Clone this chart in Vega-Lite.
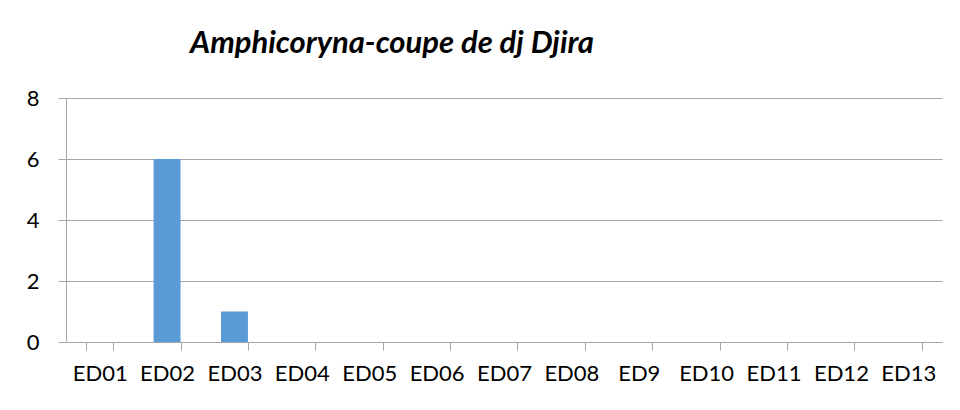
{
  "$schema": "https://vega.github.io/schema/vega-lite/v6.json",
  "autosize": {"type": "none"},
  "width": 876,
  "height": 244,
  "padding": {"left": 66, "top": 98, "right": 18, "bottom": 68},
  "background": "white",
  "title": {
    "text": "Amphicoryna-coupe de dj Djira",
    "font": "Lato",
    "fontSize": 31,
    "fontWeight": "bold",
    "fontStyle": "italic",
    "color": "black",
    "anchor": "middle",
    "dx": -112,
    "offset": 27
  },
  "data": {
    "values": [
      {"echantillon": "ED01", "nombre": 0},
      {"echantillon": "ED02", "nombre": 6},
      {"echantillon": "ED03", "nombre": 1},
      {"echantillon": "ED04", "nombre": 0},
      {"echantillon": "ED05", "nombre": 0},
      {"echantillon": "ED06", "nombre": 0},
      {"echantillon": "ED07", "nombre": 0},
      {"echantillon": "ED08", "nombre": 0},
      {"echantillon": "ED9", "nombre": 0},
      {"echantillon": "ED10", "nombre": 0},
      {"echantillon": "ED11", "nombre": 0},
      {"echantillon": "ED12", "nombre": 0},
      {"echantillon": "ED13", "nombre": 0}
    ]
  },
  "mark": {"type": "bar", "color": "#5B9BD5"},
  "encoding": {
    "x": {
      "field": "echantillon",
      "type": "nominal",
      "sort": null,
      "title": null,
      "scale": {"paddingInner": 0.6, "paddingOuter": 0.3},
      "axis": {
        "labelAngle": 0,
        "tickBand": "extent",
        "tickSize": 8,
        "tickColor": "#a6a6a6",
        "domainColor": "#a6a6a6",
        "labelFont": "Lato",
        "labelFontSize": 22,
        "labelColor": "black",
        "labelPadding": 13,
        "grid": false
      }
    },
    "y": {
      "field": "nombre",
      "type": "quantitative",
      "title": null,
      "scale": {"domain": [0, 8], "nice": false},
      "axis": {
        "values": [0, 2, 4, 6, 8],
        "tickSize": 8,
        "tickColor": "#a6a6a6",
        "domainColor": "#a6a6a6",
        "gridColor": "#a6a6a6",
        "grid": true,
        "labelFont": "Lato",
        "labelFontSize": 22,
        "labelColor": "black",
        "labelPadding": 19
      }
    }
  },
  "config": {"view": {"stroke": null}}
}
